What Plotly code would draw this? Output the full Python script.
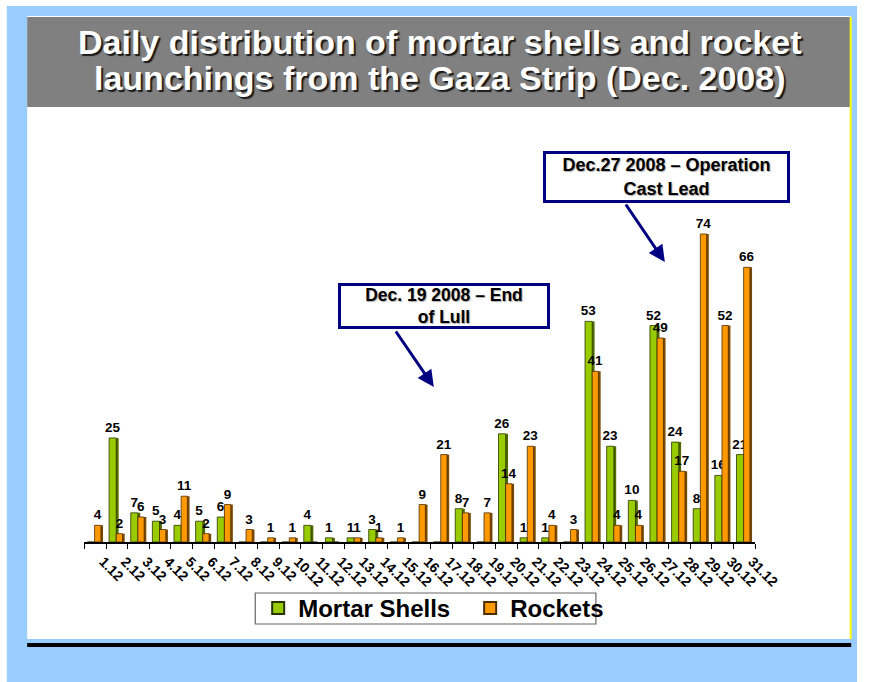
import plotly.graph_objects as go

W, H = 883, 682

days = [f"{d}.12" for d in range(1, 32)]
mortar = [0, 25, 7, 5, 4, 5, 6, 0, 0, 0, 4, 1, 1, 3, 0, 0, 0, 8, 0, 26,
          1, 1, 0, 53, 23, 10, 52, 24, 8, 16, 21]
rockets = [4, 2, 6, 3, 11, 2, 9, 3, 1, 1, 0, 0, 1, 1, 1, 9, 21, 7, 7, 14,
           23, 4, 3, 41, 4, 4, 49, 17, 74, 52, 66]

title_lines = ["Daily distribution of mortar shells and rocket",
               "launchings from the Gaza Strip (Dec. 2008)"]
note1 = "Dec. 19 2008 – End<br>of Lull"
note2 = "Dec.27 2008 – Operation<br>Cast Lead"

FONT = "Liberation Sans, Arial, sans-serif"


def px(x):
    return x / W


def py(y):
    return 1 - y / H


def labels(vals):
    return [str(v) if v else "" for v in vals]


GREEN, GREEN_SIDE = "#99CC00", "#4F6A00"
ORANGE, ORANGE_SIDE = "#FF9900", "#7A4A00"

fig = go.Figure()
fig.add_trace(go.Bar(x=days, y=mortar, offset=-0.04, width=0.12,
                     marker=dict(color=GREEN_SIDE, line=dict(width=0)),
                     showlegend=False, hoverinfo="skip"))
fig.add_trace(go.Bar(x=days, y=mortar, name="Mortar Shells", offset=-0.36, width=0.33,
                     marker=dict(color=GREEN, line=dict(color="#2a3300", width=0.8)),
                     text=labels(mortar), textposition="outside",
                     textfont=dict(family=FONT, size=13.5, color="black", weight="bold"),
                     cliponaxis=False, constraintext="none"))
fig.add_trace(go.Bar(x=days, y=rockets, offset=0.24, width=0.12,
                     marker=dict(color=ORANGE_SIDE, line=dict(width=0)),
                     showlegend=False, hoverinfo="skip"))
fig.add_trace(go.Bar(x=days, y=rockets, name="Rockets", offset=-0.03, width=0.29,
                     marker=dict(color=ORANGE, line=dict(color="#4a2d00", width=0.8)),
                     text=labels(rockets), textposition="outside",
                     textfont=dict(family=FONT, size=13.5, color="black", weight="bold"),
                     cliponaxis=False, constraintext="none"))

shapes = [
    dict(type="rect", xref="paper", yref="paper", x0=px(7), x1=1, y0=0, y1=py(6),
         fillcolor="#99CCFF", line=dict(width=0), layer="below"),
    dict(type="rect", xref="paper", yref="paper", x0=px(28), x1=px(876), y0=py(639), y1=py(16),
         fillcolor="white", line=dict(width=0), layer="below"),
    dict(type="rect", xref="paper", yref="paper", x0=px(28), x1=px(876), y0=py(107), y1=py(17),
         fillcolor="#808080", line=dict(width=0), layer="below"),
    dict(type="line", xref="paper", yref="paper", x0=px(876.5), x1=px(876.5), y0=py(639), y1=py(17),
         line=dict(color="#FFFF00", width=2), layer="below"),
    dict(type="line", xref="paper", yref="paper", x0=px(28), x1=px(877), y0=py(645), y1=py(645),
         line=dict(color="black", width=4), layer="below"),
    dict(type="rect", xref="paper", yref="paper", x0=px(263), x1=px(614), y0=py(624), y1=py(593),
         fillcolor="white", line=dict(color="#666666", width=1.2), layer="below"),
]

annotations = [
    dict(text=title_lines[0], x=px(453), y=py(42), xref="paper", yref="paper",
         showarrow=False, xanchor="center", yanchor="middle",
         font=dict(family=FONT, size=34, color="white", weight="bold",
                   shadow="2px 2px 1px #1a1a1a")),
    dict(text=title_lines[1], x=px(453), y=py(78), xref="paper", yref="paper",
         showarrow=False, xanchor="center", yanchor="middle",
         font=dict(family=FONT, size=34, color="white", weight="bold",
                   shadow="2px 2px 1px #1a1a1a")),
    dict(text=note1, x=px(457), y=py(306), xref="paper", yref="paper",
         showarrow=False, xanchor="center", yanchor="middle",
         width=206, height=40, borderpad=0, bordercolor="#000080", borderwidth=3,
         bgcolor="white",
         font=dict(family=FONT, size=17.5, color="black", weight="bold",
                   shadow="1px 1px 1px #aaaaaa")),
    dict(text=note2, x=px(686.5), y=py(177), xref="paper", yref="paper",
         showarrow=False, xanchor="center", yanchor="middle",
         width=241, height=46, borderpad=0, bordercolor="#000080", borderwidth=3,
         bgcolor="white",
         font=dict(family=FONT, size=18, color="black", weight="bold",
                   shadow="1px 1px 1px #aaaaaa")),
    dict(text="", x=px(447), y=py(387), xref="paper", yref="paper",
         ax=-39, ay=-57, showarrow=True, arrowhead=2, arrowsize=1.1,
         arrowwidth=3, arrowcolor="#000080"),
    dict(text="", x=px(685), y=py(262), xref="paper", yref="paper",
         ax=-40, ay=-59, showarrow=True, arrowhead=2, arrowsize=1.1,
         arrowwidth=3, arrowcolor="#000080"),
]

fig.update_layout(
    width=W, height=H, autosize=False,
    margin=dict(l=0, r=0, t=0, b=0, pad=0),
    paper_bgcolor="white", plot_bgcolor="rgba(0,0,0,0)",
    barmode="overlay",
    shapes=shapes, annotations=annotations,
    xaxis=dict(domain=[px(87), px(778)], range=[-0.5, 30.5], type="category",
               showgrid=False, showline=True, linecolor="black", linewidth=2,
               ticks="outside", tickson="boundaries", ticklen=5, tickcolor="black",
               tickangle=45, zeroline=False, ticklabelshift=8, ticklabelstandoff=4,
               tickfont=dict(family=FONT, size=14, color="black", weight="bold")),
    yaxis=dict(domain=[py(542), py(209)], range=[0, 80], visible=False),
    legend=dict(orientation="h", x=px(266), y=py(608.5), xanchor="left", yanchor="middle",
                bgcolor="rgba(0,0,0,0)", borderwidth=0, entrywidth=167,
                font=dict(family=FONT, size=24, color="black", weight="bold"),
                itemsizing="constant", traceorder="normal"),
    font=dict(family=FONT),
)

fig.write_html(
    "out.html",
    config={"displayModeBar": False, "responsive": False},
    post_script="document.body.style.margin='0px';document.body.style.overflow='hidden';",
)
